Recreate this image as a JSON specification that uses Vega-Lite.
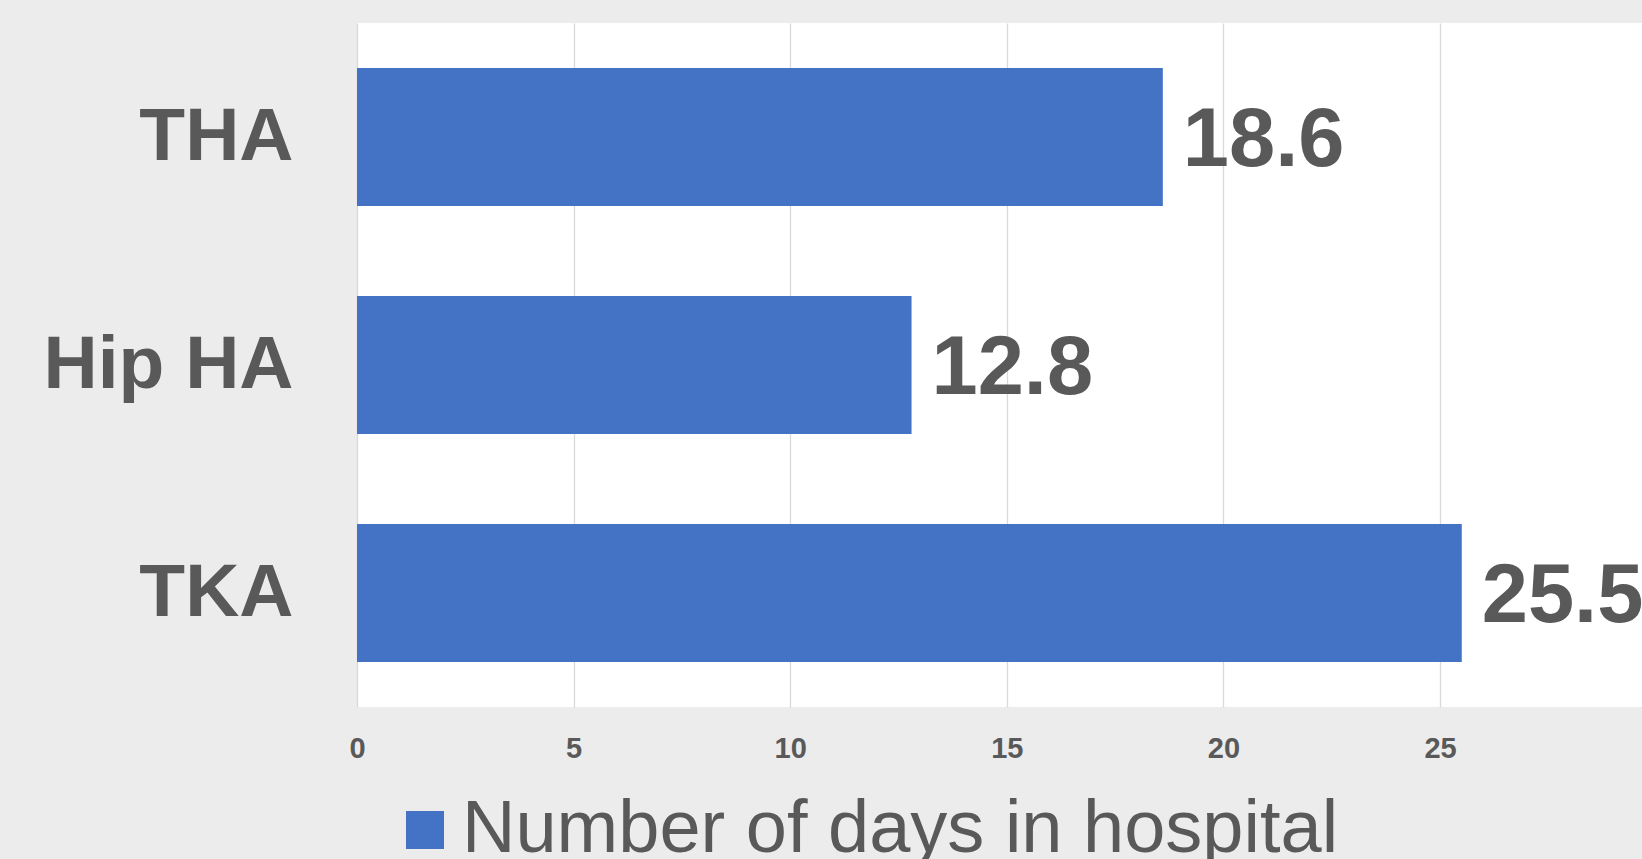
{
  "$schema": "https://vega.github.io/schema/vega-lite/v6.json",
  "autosize": "none",
  "width": 1285,
  "height": 684,
  "padding": {"left": 357, "top": 23, "right": 0, "bottom": 152},
  "background": "#ECECEC",
  "config": {"view": {"fill": "#FFFFFF", "stroke": null}, "font": "Liberation Sans"},
  "data": {"values": [
    {"proc": "THA", "days": 18.6, "series": "Number of days in hospital"},
    {"proc": "Hip HA", "days": 12.8, "series": "Number of days in hospital"},
    {"proc": "TKA", "days": 25.5, "series": "Number of days in hospital"}
  ]},
  "encoding": {
    "y": {"field": "proc", "type": "nominal", "sort": null,
      "scale": {"paddingInner": 0.395, "paddingOuter": 0.1975},
      "axis": {"title": null, "ticks": false, "domain": false, "labelFontSize": 75, "labelFontWeight": "bold", "labelColor": "#595959", "labelPadding": 64, "labelFont": "Liberation Sans", "labelLimit": 0}},
    "x": {"field": "days", "type": "quantitative",
      "scale": {"domain": [0, 29.66], "nice": false},
      "axis": {"title": null, "values": [0, 5, 10, 15, 20, 25, 30], "ticks": false, "domain": false, "gridColor": "#D9D9D9", "gridWidth": 1.3, "labelFontSize": 29, "labelFontWeight": "bold", "labelColor": "#595959", "labelPadding": 27, "labelFlush": false, "labelOverlap": false, "labelFont": "Liberation Sans"}}
  },
  "layer": [
    {"mark": {"type": "bar"},
     "encoding": {"color": {"field": "series", "type": "nominal", "scale": {"range": ["#4472C4"]},
       "legend": {"orient": "none", "legendX": 31, "legendY": 770, "title": null, "symbolType": "square", "symbolSize": 1444, "symbolStrokeWidth": 0, "symbolOpacity": 1, "labelFontSize": 74, "labelColor": "#595959", "labelOffset": 0, "padding": 0, "labelFont": "Liberation Sans", "labelLimit": 0}}}},
    {"mark": {"type": "text", "align": "left", "baseline": "middle", "dx": 20, "dy": 4, "fontSize": 83, "fontWeight": "bold", "color": "#595959", "font": "Liberation Sans"},
     "encoding": {"text": {"field": "days", "type": "quantitative", "format": ".1f"}}}
  ]
}
